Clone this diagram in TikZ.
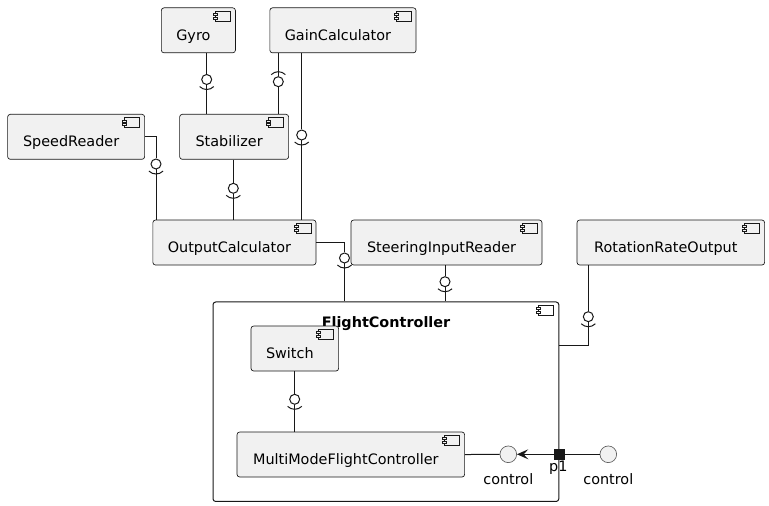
\documentclass[tikz,border=0pt]{standalone}
\usepackage{fontspec}
\setmainfont{DejaVu Sans}
\usetikzlibrary{arrows.meta}
\definecolor{compfill}{HTML}{F1F1F1}
\definecolor{umlline}{HTML}{181818}

\begin{document}
\begin{tikzpicture}[
    x=0.75pt, y=-0.75pt,
    font=\fontsize{10.8}{13}\selectfont,
    compicon/.style={path picture={
        \draw[umlline, line width=0.5pt, sharp corners, fill=#1]
          ([shift={(-20,3.2)}]path picture bounding box.north east) rectangle ++(15,10);
        \draw[umlline, line width=0.5pt, sharp corners, fill=#1]
          ([shift={(-22,5.7)}]path picture bounding box.north east) rectangle ++(4,2)
          ([shift={(-22,9.2)}]path picture bounding box.north east) rectangle ++(4,2);
    }},
    comp/.style={draw=umlline, line width=0.5pt, fill=compfill, rounded corners=2pt,
                 anchor=north west, inner xsep=11.25pt, inner ysep=0pt,
                 minimum height=33.75pt, text height=16pt, text depth=1pt,
                 execute at end node={\hspace{7.5pt}}, compicon=compfill},
    container/.style={draw=umlline, line width=0.75pt, fill=white, rounded corners=2pt,
                      anchor=north west, inner sep=0pt, minimum width=259.35pt,
                      minimum height=149.6pt, compicon=white},
    ball/.style={circle, draw=umlline, line width=0.75pt, fill=white,
                 minimum size=7.5pt, inner sep=0pt},
    iface/.style={circle, draw=umlline!70, line width=0.5pt, fill=compfill,
                  minimum size=12.5pt, inner sep=0pt},
    port/.style={rectangle, draw=umlline, fill=umlline, minimum size=7.5pt, inner sep=0pt},
    conn/.style={draw=umlline, line width=0.75pt},
    arrow/.style={conn, -{Stealth[length=8.5pt, width=7.5pt, inset=3.5pt]}},
    txt/.style={anchor=base, inner sep=0pt},
    title/.style={anchor=base, inner sep=0pt, font=\fontsize{10.8}{13}\selectfont\bfseries}
]
\useasboundingbox (0,0) rectangle (769,506);

% outer components
\node[comp, minimum width=54.75pt] (gyro) at (161,7.5) {Gyro};
\node[comp, minimum width=108pt] (gain) at (269.5,7.5) {GainCalculator};
\node[comp, minimum width=102.75pt] (speed) at (7.3,114) {SpeedReader};
\node[comp, minimum width=81.75pt] (stab) at (179.3,114) {Stabilizer};
\node[comp, minimum width=122pt] (outcalc) at (152.5,219.7) {OutputCalculator};
\node[comp, minimum width=143.25pt] (steer) at (350.7,219.7) {SteeringInputReader};
\node[comp, minimum width=140.7pt] (rot) at (576.7,219.7) {RotationRateOutput};

% container with its inner parts
\node[container] (fc) at (212.5,301.5) {};
\node[title] (fctitle) at (386,327.5) {FlightController};
\node[comp, minimum width=65.7pt] (switch) at (250.7,325.7) {Switch};
\node[comp, minimum width=170.7pt] (mmfc) at (236.7,431.7) {MultiModeFlightController};
\node[iface] (ctlin) at (508.3,454.3) {};
\node[port] (p1) at (fc.east |- ctlin) {};
\node[iface] (ctlout) at (608.3,454.3) {};
\node[txt] (ctlinlbl) at (508.3,484) {control};
\node[txt] (p1lbl) at (558.3,472) {p1};
\node[txt] (ctloutlbl) at (608.3,484) {control};

% provided interfaces (balls)
\node[ball] (b1) at (206.7,79.5) {};
\node[ball] (b2) at (278.3,81.7) {};
\node[ball] (b3) at (301.7,135) {};
\node[ball] (b4) at (156,164) {};
\node[ball] (b5) at (233.3,188.3) {};
\node[ball] (b6) at (344.5,258) {};
\node[ball] (b7) at (445,281.7) {};
\node[ball] (b8) at (588.3,316.7) {};
\node[ball] (b9) at (294.7,399.3) {};
\path (fc.east) ++(0,-56.2) coordinate (rotin);

\draw[conn] (gyro.south -| b1) -- (b1);
\draw[conn] (b1) -- (stab.north -| b1);
\draw[conn] (gain.south -| b2) -- (b2);
\draw[conn] (b2) -- (stab.north -| b2);
\draw[conn] (gain.south -| b3) -- (b3);
\draw[conn] (b3) -- (outcalc.north -| b3);
\draw[conn] (speed.east) -| (b4);
\draw[conn] (b4) -- (outcalc.north -| b4);
\draw[conn] (stab.south -| b5) -- (b5);
\draw[conn] (b5) -- (outcalc.north -| b5);
\draw[conn] (outcalc.east) -| (b6);
\draw[conn] (b6) -- (fc.north -| b6);
\draw[conn] (steer.south -| b7) -- (b7);
\draw[conn] (b7) -- (fc.north -| b7);
\draw[conn] (rot.south -| b8) -- (b8);
\draw[conn] (b8) |- (rotin);
\draw[conn] (switch.south -| b9) -- (b9);
\draw[conn] (b9) -- (mmfc.north -| b9);
\draw[conn] (mmfc.east) -- (ctlin);
\draw[arrow] (p1) -- (ctlin);
\draw[conn] (p1) -- (ctlout);

% required side (sockets)
\foreach \b in {b1,b3,b4,b5,b6,b7,b8,b9}
  \draw[conn] ([shift={(-7.07,7.07)}]\b.center) arc[start angle=225, end angle=315, radius=7.5pt];
\draw[conn] ([shift={(7.07,-7.07)}]b2.center) arc[start angle=45, end angle=135, radius=7.5pt];

\end{tikzpicture}
\end{document}
